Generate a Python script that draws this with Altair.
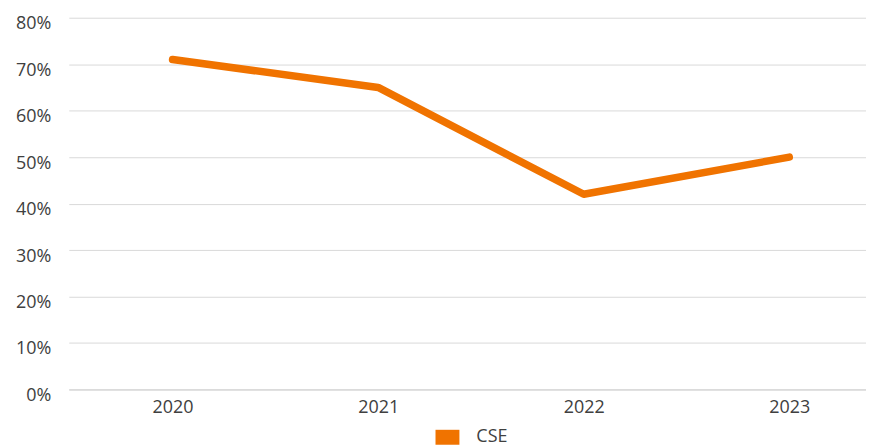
import altair as alt
import pandas as pd

years = ["2020", "2021", "2022", "2023"]
cse = [0.71, 0.65, 0.42, 0.50]
series = ["CSE"] * len(years)

df = pd.DataFrame({"year": years, "value": cse, "series": series})

FONT = "Open Sans"
TXT = "#404040"
ORANGE = "#F07300"

chart = alt.Chart(df).mark_line(strokeWidth=7.5, strokeCap="round", strokeJoin="round").encode(
    x=alt.X("year:O", title=None,
            scale=alt.Scale(type="point", padding=0.439, align=0.575),
            axis=alt.Axis(labelAngle=0, ticks=False, domain=True, domainColor="#d0d0d0",
                          labelPadding=9, labelFontSize=18, labelFont=FONT, labelColor=TXT,
                          grid=False)),
    y=alt.Y("value:Q", title=None,
            scale=alt.Scale(domain=[0, 0.8], nice=False),
            axis=alt.Axis(format=".0%", values=[0, 0.1, 0.2, 0.3, 0.4, 0.5, 0.6, 0.7, 0.8],
                          domain=False, ticks=False, labelPadding=18, labelFontSize=18,
                          labelFont=FONT, labelColor=TXT, gridColor="#d9d9d9",
                          labelOffset=6)),
    color=alt.Color("series:N", title=None,
                    scale=alt.Scale(range=[ORANGE]),
                    legend=alt.Legend(orient="none", legendX=368, legendY=409,
                                      direction="horizontal", padding=0,
                                      symbolType="M-1,-0.625H1V0.625H-1Z", symbolSize=576,
                                      symbolFillColor=ORANGE, symbolStrokeWidth=0,
                                      labelFontSize=18, labelFont=FONT, labelColor=TXT,
                                      labelOffset=17)),
).properties(
    width=800, height=373,
    autosize=alt.AutoSizeParams(type="none"),
    padding={"left": 61, "top": 9, "right": 0, "bottom": 57},
).configure_view(stroke=None)

chart.save("out.html", embed_options={"renderer": "svg", "actions": False})
